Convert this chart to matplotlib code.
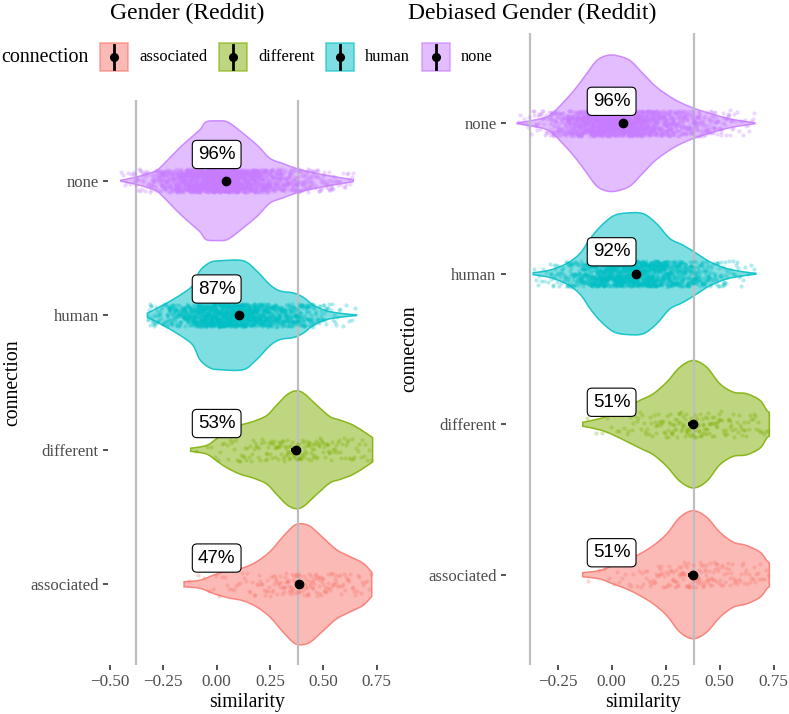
import numpy as np
import matplotlib
matplotlib.use("Agg")
import matplotlib.pyplot as plt
from matplotlib.patches import Rectangle, PathPatch
from matplotlib.path import Path
from matplotlib.lines import Line2D

# ---------------- data ----------------
categories = ["associated", "different", "human", "none"]
colors = ["#F8766D", "#7CAE00", "#00BFC4", "#C77CFF"]

# Gender (Reddit): violin density profiles (similarity grid, relative density)
g_assoc_x = [-0.153, -0.078, -0.016, 0.047, 0.125, 0.1875, 0.25, 0.312, 0.359, 0.39, 0.437, 0.5, 0.5625, 0.625, 0.687, 0.727]
g_assoc_d = [2.5, 4, 9, 13, 16.3, 22.3, 32.3, 47.3, 57.3, 59.7, 57.3, 45.7, 34, 27.3, 20.7, 12]
g_diff_x = [-0.122, -0.047, 0.0, 0.047, 0.109, 0.172, 0.234, 0.281, 0.328, 0.367, 0.406, 0.469, 0.531, 0.578, 0.640, 0.703, 0.731]
g_diff_d = [1.5, 4.3, 11, 17.7, 24, 28, 33.7, 44, 54, 58, 56, 44, 32.7, 29.3, 24.3, 16, 12]
g_human_x = [-0.325, -0.234, -0.156, -0.11, -0.078, -0.031, 0.016, 0.125, 0.1875, 0.25, 0.297, 0.359, 0.406, 0.453, 0.516, 0.578, 0.656]
g_human_d = [2, 12, 22, 30, 44, 52, 53.7, 53.7, 43.7, 30, 24, 22, 17.7, 10, 4.3, 2, 0.3]
g_none_x = [-0.45, -0.39, -0.31, -0.27, -0.19, -0.14, -0.08, -0.05, 0.0, 0.05, 0.11, 0.19, 0.25, 0.31, 0.375, 0.45, 0.55, 0.64]
g_none_d = [0.5, 3, 7.7, 12, 29, 39, 50, 58, 59, 58, 49, 35, 22, 17, 12, 8, 4, 1]
g_means = [0.387, 0.372, 0.103, 0.042]
g_ci = [0.022, 0.022, 0.006, 0.005]
g_counts = [170, 170, 1500, 2000]
g_labels = ["47%", "53%", "87%", "96%"]
g_thresholds = [-0.38, 0.383]

# Debiased Gender (Reddit)
d_assoc_x = [-0.134, -0.054, 0.007, 0.069, 0.131, 0.193, 0.255, 0.316, 0.378, 0.44, 0.501, 0.563, 0.625, 0.687, 0.718, 0.73]
d_assoc_d = [2, 4.3, 9.3, 14.3, 21, 29.3, 41, 57.7, 64.3, 57.7, 42.7, 32.7, 29.3, 22.7, 14.3, 12]
d_diff_x = [-0.134, -0.054, 0.007, 0.069, 0.131, 0.193, 0.255, 0.316, 0.378, 0.44, 0.501, 0.563, 0.625, 0.687, 0.718, 0.73]
d_diff_d = [2, 5.7, 10.7, 17.3, 24, 30.7, 42.3, 57.3, 64, 57.3, 40.7, 32.3, 30.7, 24, 14, 12]
d_human_x = [-0.363, -0.286, -0.208, -0.147, -0.1, -0.054, 0.007, 0.069, 0.146, 0.208, 0.27, 0.331, 0.394, 0.455, 0.532, 0.609, 0.668]
d_human_d = [1, 3.7, 10.3, 20.3, 35, 47, 58, 61, 60.3, 50.3, 35.3, 28.7, 20.3, 12, 5.3, 2, 0.5]
d_none_x = [-0.437, -0.363, -0.286, -0.208, -0.162, -0.116, -0.069, -0.023, 0.023, 0.085, 0.146, 0.208, 0.285, 0.347, 0.409, 0.486, 0.563, 0.663]
d_none_d = [0.5, 3, 8, 24.7, 36.3, 49.7, 63, 68, 68, 63, 49.7, 36.3, 24.7, 18, 13, 8, 3.7, 0.5]
d_means = [0.375, 0.375, 0.1125, 0.051]
d_ci = [0.022, 0.022, 0.006, 0.005]
d_counts = [170, 170, 1500, 2000]
d_labels = ["51%", "51%", "92%", "96%"]
d_thresholds = [-0.378, 0.381]

g_xticks = [-0.50, -0.25, 0.00, 0.25, 0.50, 0.75]
d_xticks = [-0.25, 0.00, 0.25, 0.50, 0.75]

SERIF = "Liberation Serif"
SANS = "Liberation Sans"
W, H = 789, 714

fig = plt.figure(figsize=(W / 100, H / 100), dpi=100)


def px_axes(left, top, right, bottom):
    return fig.add_axes([left / W, 1 - bottom / H, (right - left) / W, (bottom - top) / H])


def quantile_values(xg, d, n):
    xg = np.asarray(xg, float)
    d = np.asarray(d, float)
    seg = 0.5 * (d[1:] + d[:-1]) * np.diff(xg)
    cdf = np.concatenate([[0], np.cumsum(seg)])
    cdf /= cdf[-1]
    q = (np.arange(n) + 0.5) / n
    return np.interp(q, cdf, xg)


def bezier_through(pts):
    """Catmull-Rom -> cubic Bezier control points through the given vertices."""
    pts = np.asarray(pts, float)
    n = len(pts)
    verts, codes = [], []
    for i in range(n - 1):
        p0 = pts[max(i - 1, 0)]
        p1 = pts[i]
        p2 = pts[i + 1]
        p3 = pts[min(i + 2, n - 1)]
        c1 = p1 + (p2 - p0) / 6.0
        c2 = p2 - (p3 - p1) / 6.0
        verts += [tuple(c1), tuple(c2), tuple(p2)]
        codes += [Path.CURVE4] * 3
    return verts, codes


def violin_path(xg, hw, pos):
    top = np.column_stack([xg, pos + hw])
    bot = np.column_stack([xg[::-1], (pos - hw)[::-1]])
    verts = [tuple(top[0])]
    codes = [Path.MOVETO]
    v, c = bezier_through(top)
    verts += v
    codes += c
    verts.append(tuple(bot[0]))
    codes.append(Path.LINETO)
    v, c = bezier_through(bot)
    verts += v
    codes += c
    verts.append(tuple(top[0]))
    codes.append(Path.CLOSEPOLY)
    return Path(verts, codes)


rng = np.random.default_rng(7)


def draw_panel(ax, profiles, means, ci, counts, labels, thresholds, xticks, xlim, label_off):
    maxd = max(max(d) for _, d in profiles)
    for i, ((xg, d), col) in enumerate(zip(profiles, colors)):
        pos = i + 1
        xg = np.asarray(xg, float)
        hw = 0.45 * np.asarray(d, float) / maxd
        path = violin_path(xg, hw, pos)
        ax.add_patch(PathPatch(path, facecolor=col, alpha=0.5, linewidth=0, zorder=1))
        ax.add_patch(PathPatch(path, facecolor="none", edgecolor=col, alpha=0.85, lw=1.1, zorder=2))
    for t in thresholds:
        ax.axvline(t, color="#BEBEBE", lw=1.6, zorder=3)
    for i, ((xg, d), col) in enumerate(zip(profiles, colors)):
        pos = i + 1
        vals = quantile_values(xg, d, counts[i])
        jit = rng.uniform(-0.085, 0.085, counts[i])
        ax.scatter(vals, pos + jit, s=9, color=col, alpha=0.3, linewidths=0, zorder=4)
    for i in range(4):
        pos = i + 1
        ax.errorbar(means[i], pos, xerr=ci[i], fmt="o", color="black", ms=6,
                    elinewidth=2.6, capsize=0, zorder=6)
        ax.text(0.0, pos + label_off, labels[i], ha="center", va="center", fontsize=13.5,
                family=SANS, zorder=7,
                bbox=dict(boxstyle="round,pad=0.3,rounding_size=0.25", fc="white", ec="black", lw=0.8))
    ax.set_xlim(*xlim)
    ax.set_ylim(0.4, 4.6)
    ax.set_yticks([1, 2, 3, 4])
    ax.set_yticklabels(categories, family=SERIF, fontsize=12, color="#4D4D4D")
    ax.set_xticks(xticks)
    ax.set_xticklabels([("\u2212" if v < 0 else "") + f"{abs(v):.2f}" for v in xticks],
                       family=SERIF, fontsize=12.3, color="#4D4D4D")
    ax.tick_params(axis="both", length=3.8, width=1.2, color="#333333", pad=3)
    for s in ax.spines.values():
        s.set_visible(False)
    ax.set_xlabel("similarity", family=SERIF, fontsize=14.2, labelpad=2)
    ax.set_ylabel("connection", family=SERIF, fontsize=14.2, labelpad=6)
    ax.patch.set_alpha(0)


axL = px_axes(108.1, 100, 385.2, 665)
draw_panel(axL,
           [(g_assoc_x, g_assoc_d), (g_diff_x, g_diff_d), (g_human_x, g_human_d), (g_none_x, g_none_d)],
           g_means, g_ci, g_counts, g_labels, g_thresholds, g_xticks, (-0.509, 0.79), 0.195)
axR = px_axes(506, 33, 781, 665)
draw_panel(axR,
           [(d_assoc_x, d_assoc_d), (d_diff_x, d_diff_d), (d_human_x, d_human_d), (d_none_x, d_none_d)],
           d_means, d_ci, d_counts, d_labels, d_thresholds, d_xticks, (-0.489, 0.784), 0.146)

# titles
fig.text(187 / W, 1 - 13 / H, "Gender (Reddit)", family=SERIF, fontsize=17, ha="center", va="center")
fig.text(532 / W, 1 - 13 / H, "Debiased Gender (Reddit)", family=SERIF, fontsize=17, ha="center", va="center")

# legend (overlay in pixel space)
lg = fig.add_axes([0, 0, 1, 1])
lg.set_xlim(0, W)
lg.set_ylim(H, 0)
lg.axis("off")
lg.patch.set_alpha(0)
lg.text(1, 57, "connection", family=SERIF, fontsize=14.4, ha="left", va="center")
key_x = [100, 219, 326, 422]
for kx, cat, col in zip(key_x, categories, colors):
    lg.add_patch(Rectangle((kx, 43), 28, 28, facecolor=col, alpha=0.5, edgecolor="none"))
    lg.add_patch(Rectangle((kx, 43), 28, 28, facecolor="none", edgecolor=col, alpha=0.6, lw=1.2))
    lg.add_line(Line2D([kx + 14, kx + 14], [45, 69], color="black", lw=2))
    lg.plot([kx + 14], [57], "o", color="black", ms=5.5)
    lg.text(kx + 39, 57, cat, family=SERIF, fontsize=11.9, ha="left", va="center")

fig.savefig("out.png", dpi=100)
